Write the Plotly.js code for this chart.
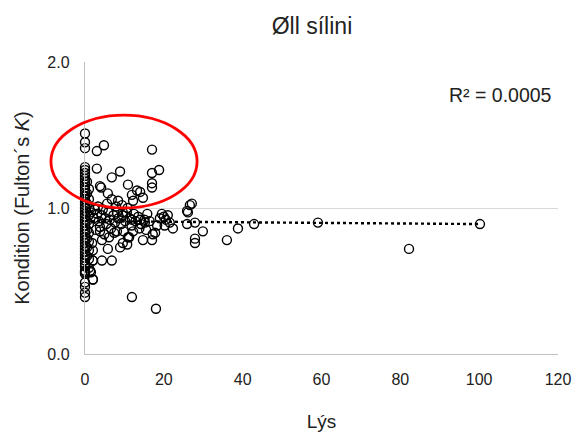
<!DOCTYPE html>
<html>
<head>
<meta charset="utf-8">
<script src="https://cdn.plot.ly/plotly-3.0.1.min.js"></script>
<style>html,body{margin:0;padding:0;background:#fff;}#chart{width:576px;height:440px;}</style>
</head>
<body>
<div id="chart"></div>
<script>
// Lýs (x) values
const lys = [
  0,0,0,0,0,0,0,0,0,0,0,0,0,0,0,0,0,0,0,0,0,0,0,0,0,0,0,0,0,0,0,0,0,0,0,0,0,0,0,0,0,0,0,0,0,
  0.5,0.5,0.5,0.5,0.5,0.5,0.5,0.5,0.5,
  1,1,1,1,1,1,1,1,1,1,1.3,1.5,2,2,2,1.8,
  3,4.8,3,6.8,8.9,3.8,10.9,4.1,5.8,13.2,14,11.9,14.7,12.2,8.4,6.8,
  17,17,17,17,18.8,
  1.5,2.2,2.5,3.1,3.5,3.8,4.2,4.5,5.1,5.4,5.9,6.3,6.6,7.2,7.6,8.1,8.5,9.2,9.6,10.2,10.6,11.3,11.8,12.4,12.8,13.5,14.2,15.1,15.8,16.4,
  2.8,4.9,6.1,7.4,9.8,11.2,13.8,15.5,3.3,5.6,7.9,9.4,10.8,
  3.8,4.3,5.8,8.9,10.7,8.1,4.3,6.8,2,2,
  9.6,11.9,14,15.2,12.2,10.9,9.6,14.7,17,17.8,18.3,17.2,11.9,18,
  19.5,20,20.5,21,21.5,22.3,19,20.2,
  26.6,26.1,25.9,27.1,25.9,27.9,29.9,27.9,27.9,
  36,38.8,42.9,59.1,82.2,100.2
];
// Kondition (Fulton´s K) values
const kond = [
  1.51,1.45,1.41,1.28,1.26,1.24,1.22,1.20,1.18,1.16,1.14,1.12,1.10,1.08,1.06,1.04,1.02,1.00,0.98,0.96,0.94,0.92,0.90,0.88,0.86,0.84,0.82,0.80,0.78,0.76,0.74,0.72,0.70,0.68,0.66,0.64,0.62,0.60,0.57,0.56,0.55,0.49,0.46,0.42,0.39,
  1.18,1.10,1.03,0.97,0.91,0.85,0.79,0.73,0.67,
  1.13,1.06,1.00,0.95,0.89,0.83,0.77,0.71,0.65,0.59,0.57,0.56,0.64,0.71,0.51,0.76,
  1.39,1.43,1.27,1.21,1.25,1.15,1.16,1.14,1.10,1.12,1.11,1.09,1.07,1.05,1.05,1.06,
  1.40,1.24,1.17,1.14,1.26,
  0.97,0.93,0.99,0.96,0.91,0.87,0.95,0.99,0.93,0.89,0.97,0.92,0.86,0.95,0.90,0.97,0.93,0.89,0.95,0.91,0.97,0.93,0.88,0.96,0.91,0.94,0.89,0.92,0.96,0.91,
  0.85,0.82,0.80,0.83,0.84,0.80,0.86,0.85,1.01,1.03,1.01,1.02,1.00,
  0.84,0.78,0.72,0.73,0.75,0.84,0.64,0.64,0.64,0.51,
  0.97,0.92,0.92,0.90,0.84,0.80,0.76,0.78,0.78,0.83,0.88,0.82,0.39,0.31,
  0.96,0.94,0.92,0.95,0.90,0.86,0.93,0.88,
  1.02,0.97,0.98,1.03,0.89,0.90,0.84,0.79,0.76,
  0.78,0.86,0.89,0.90,0.72,0.89
];
// Linear trendline
const trendX = [0, 100];
const trendY = [0.91, 0.89];
const xTicks = [0, 20, 40, 60, 80, 100, 120];
const yTicks = [0.0, 1.0, 2.0];
const yTickText = ['0.0', '1.0', '2.0'];

const font = 'Liberation Sans, Arial, sans-serif';

const traces = [
  {
    x: lys, y: kond, type: 'scatter', mode: 'markers',
    marker: {symbol: 'circle-open', size: 9, color: '#000', line: {width: 1.4, color: '#000'}},
    cliponaxis: false, showlegend: false, hoverinfo: 'skip'
  },
  {
    x: trendX, y: trendY, type: 'scatter', mode: 'lines',
    line: {color: '#000', width: 2.4, dash: 'dot'},
    showlegend: false, hoverinfo: 'skip'
  }
];

const layout = {
  width: 576, height: 440,
  paper_bgcolor: '#fff', plot_bgcolor: '#fff',
  margin: {l: 85, r: 18, t: 62, b: 86},
  font: {family: font, color: '#222', size: 16},
  title: {
    text: 'Øll sílini', font: {family: font, size: 23, color: '#222'},
    x: 312/576, xref: 'container', xanchor: 'center',
    y: 1 - 26/440, yref: 'container', yanchor: 'middle'
  },
  xaxis: {
    range: [0, 120], tickvals: xTicks, ticktext: xTicks.map(String),
    showgrid: false, zeroline: false, showline: true, linecolor: '#c0c0c0', linewidth: 1.2,
    ticks: '', ticklabelstandoff: 11,
    tickfont: {family: font, size: 16, color: '#222'},
    title: {text: 'Lýs', font: {family: font, size: 19, color: '#222'}, standoff: 27}
  },
  yaxis: {
    range: [0, 2], tickvals: yTicks, ticktext: yTickText,
    showgrid: true, gridcolor: '#d9d9d9', gridwidth: 1,
    zeroline: false, showline: true, linecolor: '#c0c0c0', linewidth: 1.2,
    ticks: '', ticklabelstandoff: 11,
    tickfont: {family: font, size: 16, color: '#222'},
    title: {text: 'Kondition (Fulton´s <i>K</i>)', font: {family: font, size: 20, color: '#222'}, standoff: 12}
  },
  annotations: [{
    text: 'R² = 0.0005', xref: 'paper', yref: 'paper',
    x: (500 - 85) / 473, y: (354 - 95) / 292, xanchor: 'center', yanchor: 'middle',
    showarrow: false, font: {family: font, size: 19.5, color: '#222'}
  }],
  shapes: [{
    type: 'circle', xref: 'paper', yref: 'paper',
    x0: -0.072, x1: 0.237, y0: 0.50, y1: 0.818,
    line: {color: '#ff0000', width: 2.8}, layer: 'above'
  }]
};

Plotly.newPlot('chart', traces, layout, {staticPlot: true, displayModeBar: false});
</script>
</body>
</html>
